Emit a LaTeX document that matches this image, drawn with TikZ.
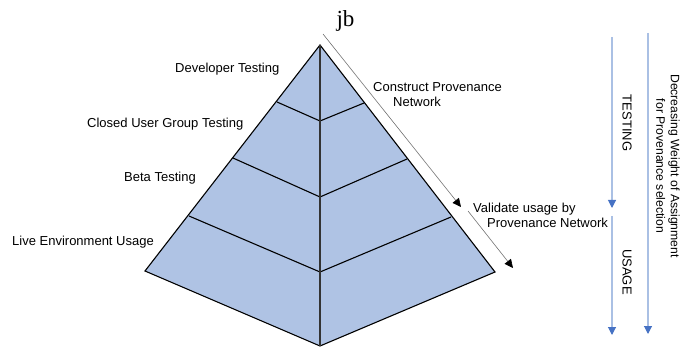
\documentclass[tikz,border=0pt]{standalone}
\usepackage{fontspec}
\setmainfont{Liberation Sans}
\newfontfamily\jbfont{Liberation Serif}
\usetikzlibrary{arrows.meta}
\definecolor{pyrfill}{RGB}{175,195,228}
\definecolor{lightline}{RGB}{170,192,228}
\definecolor{headblue}{RGB}{70,114,196}
\tikzset{
  lbl/.style={anchor=base west, inner sep=0pt, font=\fontsize{13}{15}\selectfont},
  rlbl/.style={rotate=-90, inner sep=0pt, align=center, font=\fontsize{13}{15}\selectfont},
  layer/.style={draw=black, line width=1.1pt},
  grayarrow/.style={draw=black!55, line width=0.6pt, -{Triangle[length=8.5pt,width=8pt,color=black,fill=black]}},
  bluearrow/.style={draw=lightline, line width=1.1pt, -{Triangle[length=8pt,width=8pt,color=headblue,fill=headblue]}}
}
\begin{document}
\begin{tikzpicture}[x=1pt,y=-1pt]
\useasboundingbox (0,0) rectangle (693,347);
% pyramid points
\coordinate (A) at (320,45);
\coordinate (L1) at (277,102); \coordinate (C1) at (320,121); \coordinate (R1) at (364,103);
\coordinate (L2) at (233,158); \coordinate (C2) at (320,197); \coordinate (R2) at (407,159);
\coordinate (L3) at (189,216); \coordinate (C3) at (320,272); \coordinate (R3) at (451,217);
\coordinate (L4) at (145,271); \coordinate (C4) at (320,346); \coordinate (R4) at (495,272);
\fill[pyrfill] (A) -- (R4) -- (C4) -- (L4) -- cycle;
\draw[layer, line join=miter] (A) -- (R4) -- (C4) -- (L4) -- cycle;
\draw[layer] (L1) -- (C1) -- (R1);
\draw[layer] (L2) -- (C2) -- (R2);
\draw[layer] (L3) -- (C3) -- (R3);
\draw[draw=black!80, line width=1.1pt] (A) -- (C4);
% title
\node[anchor=base, inner sep=0pt, font=\jbfont\fontsize{23}{26}\selectfont] (jb) at (345.5,27) {jb};
% left labels
\node[lbl] (dev) at (175,72.5) {Developer Testing};
\node[lbl] (cug) at (87,127.5) {Closed User Group Testing};
\node[lbl] (beta) at (124,181.5) {Beta Testing};
\node[lbl] (live) at (12,245.5) {Live Environment Usage};
% right labels
\node[lbl] (cp1) at (373,91.5) {Construct Provenance};
\node[lbl] (cp2) at (393,106.5) {Network};
\node[lbl] (vu1) at (473,212.5) {Validate usage by};
\node[lbl] (vu2) at (487,227.5) {Provenance Network};
% diagonal arrows
\coordinate (d1s) at (323,34); \coordinate (d1e) at (461,207);
\coordinate (d2s) at (468,211); \coordinate (d2e) at (513,268);
\draw[grayarrow] (d1s) -- (d1e);
\draw[grayarrow] (d2s) -- (d2e);
% vertical arrows
\coordinate (v1s) at (612,37); \coordinate (v1e) at (612,208);
\coordinate (v2s) at (612,216); \coordinate (v2e) at (612,335);
\coordinate (v3s) at (648,33); \coordinate (v3e) at (648,334);
\draw[bluearrow] (v1s) -- (v1e);
\draw[bluearrow] (v2s) -- (v2e);
\draw[bluearrow] (v3s) -- (v3e);
\node[rlbl] (testing) at (627,123) {TESTING};
\node[rlbl] (usage) at (627,272) {USAGE};
\node[rlbl, font=\fontsize{12.2}{14.5}\selectfont] (weight) at (668,166) {Decreasing Weight of Assignment\\for Provenance selection};
\end{tikzpicture}
\end{document}
